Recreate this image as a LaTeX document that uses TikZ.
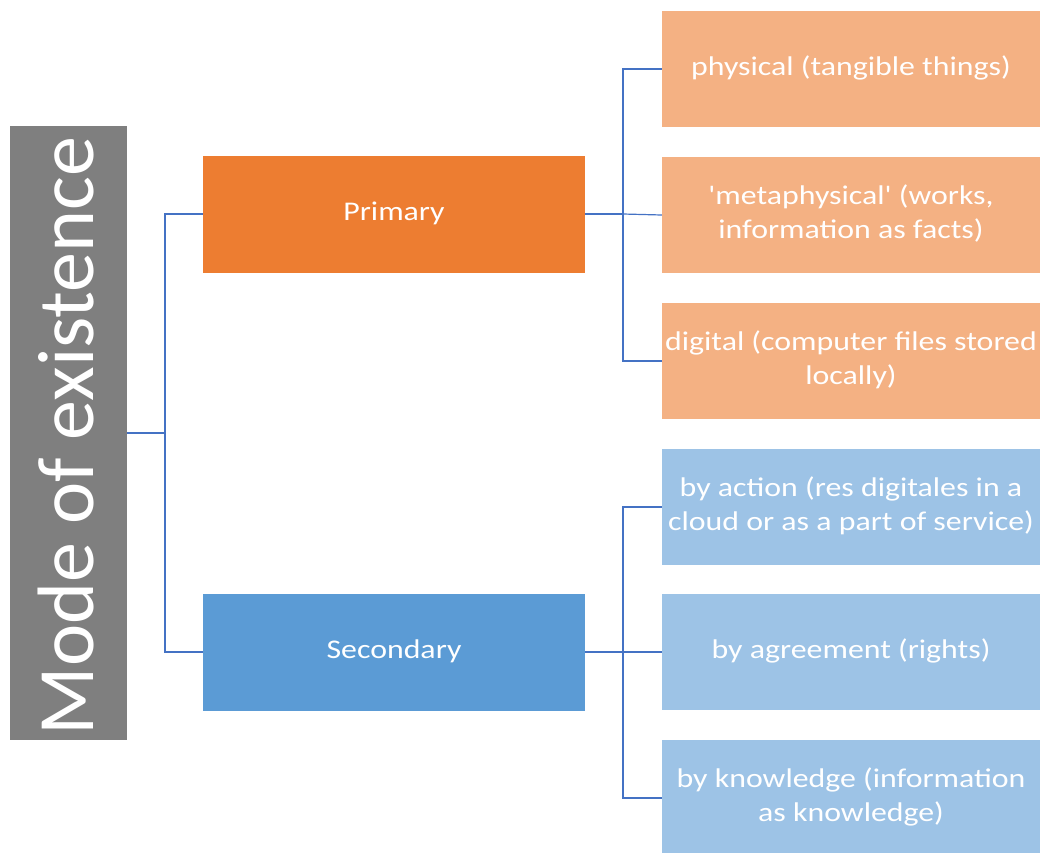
\documentclass[tikz,border=0pt]{standalone}
\usepackage{fontspec}
\setmainfont{Carlito}
\definecolor{grayc}{HTML}{7F7F7F}
\definecolor{orangec}{HTML}{ED7D31}
\definecolor{lorange}{HTML}{F4B183}
\definecolor{bluec}{HTML}{5B9BD5}
\definecolor{lblue}{HTML}{9DC3E6}
\definecolor{linec}{HTML}{4472C4}
\newcommand{\wtxt}[1]{\raisebox{-2.5pt}{\scalebox{1.18}[1]{\begin{tabular}{@{}c@{}}#1\end{tabular}}}}
\begin{document}
\begin{tikzpicture}[x=1pt,y=-1pt,
  box/.style={rectangle, inner sep=0pt, text=white, align=center,
    font=\fontsize{27}{34}\selectfont},
  mid/.style={box, minimum width=382pt, minimum height=117pt},
  leaf/.style={box, minimum width=378pt, minimum height=116pt},
  conn/.style={draw=linec, line width=1.2pt}]
\useasboundingbox (0,0) rectangle (1040,852);
\node[rectangle, fill=grayc, minimum width=117pt, minimum height=614pt, inner sep=0pt] (root) at (68.5,433) {};
\node[text=white, rotate=90, font=\fontsize{80}{80}\selectfont, inner sep=0pt] (roottext) at (66,436) {Mode of existence};
\node[mid, fill=orangec] (prim) at (394,214) {\wtxt{Primary}};
\node[mid, fill=bluec] (sec) at (394,652) {\wtxt{Secondary}};
\node[leaf, fill=lorange] (p1) at (851,69) {\wtxt{physical (tangible things)}};
\node[leaf, fill=lorange] (p2) at (851,215) {\wtxt{\textquotesingle metaphysical\textquotesingle{} (works,\\information as facts)}};
\node[leaf, fill=lorange] (p3) at (851,361) {\wtxt{digital (computer files stored\\locally)}};
\node[leaf, fill=lblue] (s1) at (851,507) {\wtxt{by action (res digitales in a\\cloud or as a part of service)}};
\node[leaf, fill=lblue] (s2) at (851,652) {\wtxt{by agreement (rights)}};
\node[leaf, fill=lblue] (s3) at (851,798) {\wtxt{by knowledge (information\\as knowledge)}};
\coordinate (j0) at (165,433);
\coordinate (j1) at (623,214);
\coordinate (j2) at (623,652);
\draw[conn] (root.east) -- (j0) |- (prim.west);
\draw[conn] (j0) |- (sec.west);
\draw[conn] (prim.east) -- (j1) |- (p1.west);
\draw[conn] (j1) -- (p2.west);
\draw[conn] (j1) |- (p3.west);
\draw[conn] (sec.east) -- (j2) |- (s1.west);
\draw[conn] (j2) -- (s2.west);
\draw[conn] (j2) |- (s3.west);
\end{tikzpicture}
\end{document}
